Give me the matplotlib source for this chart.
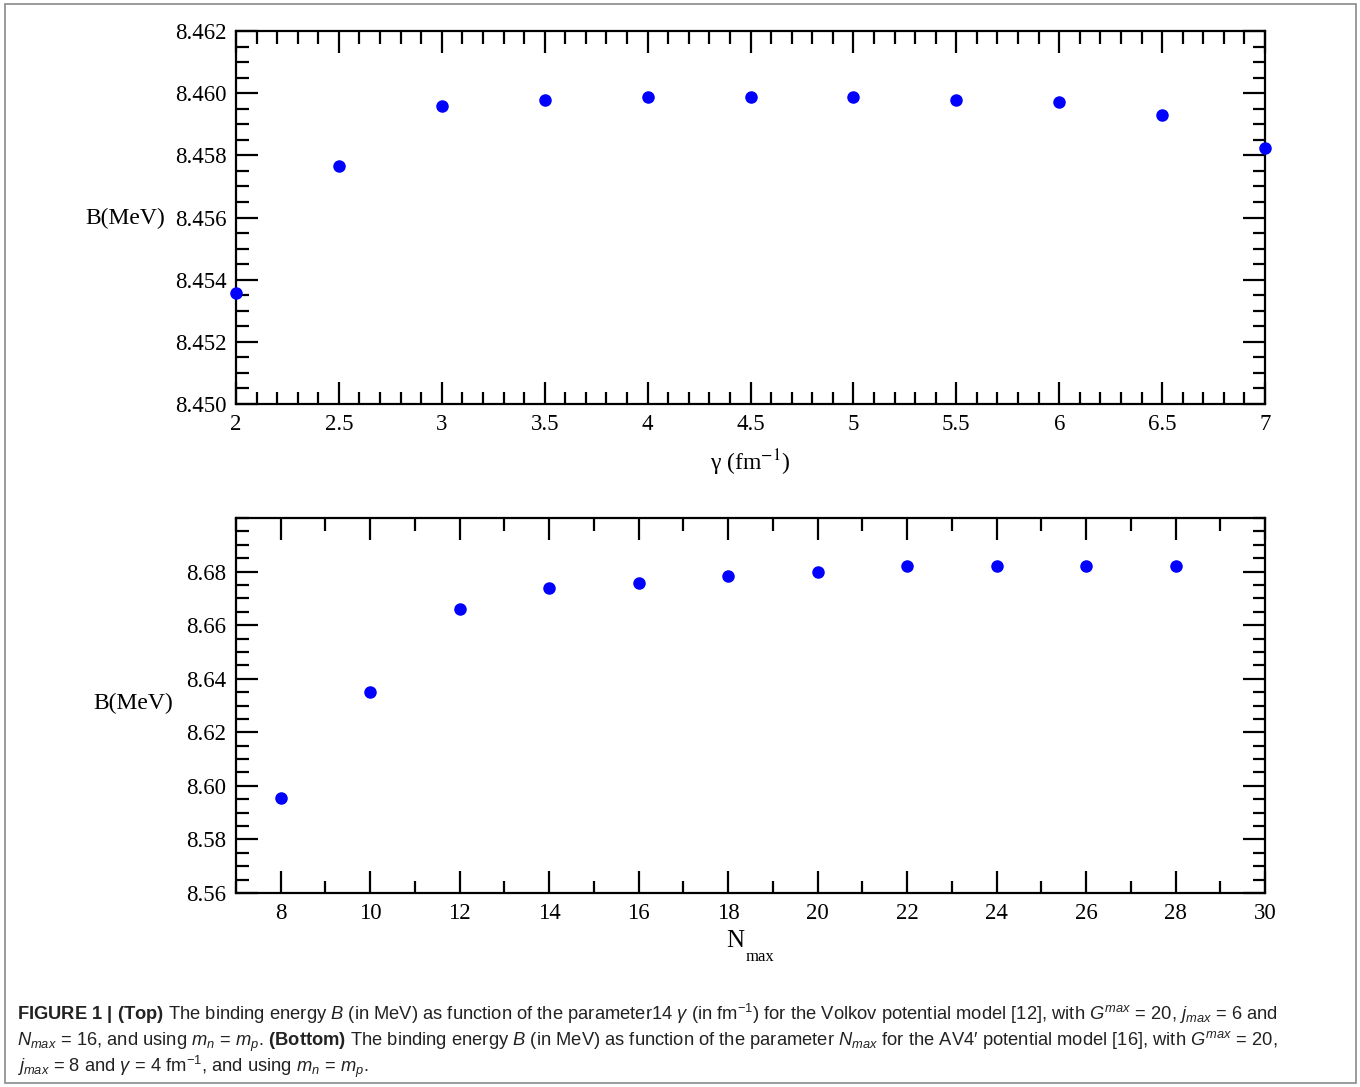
import matplotlib
matplotlib.use("Agg")
import matplotlib.pyplot as plt
from matplotlib.patches import Rectangle
from matplotlib.ticker import MultipleLocator, FormatStrFormatter

# ── Data ───────────────────────────────────────────────────────────────────────
gamma_vals = [2.0, 2.5, 3.0, 3.5, 4.0, 4.5, 5.0, 5.5, 6.0, 6.5, 7.0]
b_gamma    = [8.45357, 8.45767, 8.45958, 8.45977, 8.45989, 8.45989,
              8.45989, 8.45977, 8.45970, 8.45929, 8.45822]

nmax_vals  = [8, 10, 12, 14, 16, 18, 20, 22, 24, 26, 28]
b_nmax     = [8.5955, 8.6352, 8.6661, 8.6738, 8.6758, 8.6785, 8.6800,
              8.6820, 8.6820, 8.6820, 8.6820]

# ── Style ──────────────────────────────────────────────────────────────────────
plt.rcParams["font.family"] = "Liberation Serif"
plt.rcParams["mathtext.fontset"] = "custom"
plt.rcParams["mathtext.rm"] = "Liberation Sans"
plt.rcParams["mathtext.it"] = "Liberation Sans:italic"
plt.rcParams["mathtext.bf"] = "Liberation Sans:bold"

W, H = 1360, 1087
fig = plt.figure(figsize=(W / 100, H / 100), dpi=100)

def px_axes(x0, y0, x1, y1):
    return fig.add_axes([x0 / W, 1 - y1 / H, (x1 - x0) / W, (y1 - y0) / H])

def style_axes(ax):
    for s in ax.spines.values():
        s.set_linewidth(1.6)
    ax.tick_params(which="both", direction="in", top=True, right=True,
                   width=1.6, labelsize=16.5, pad=7, colors="black")
    ax.tick_params(which="major", length=16)
    ax.tick_params(which="minor", length=9)

# ── Top panel ──────────────────────────────────────────────────────────────────
ax1 = px_axes(236, 31, 1265, 404)
ax1.plot(gamma_vals, b_gamma, "o", color="#0000ff", ms=8, clip_on=False, zorder=5)
ax1.set_xlim(2, 7)
ax1.set_ylim(8.450, 8.462)
ax1.xaxis.set_major_locator(MultipleLocator(0.5))
ax1.xaxis.set_minor_locator(MultipleLocator(0.1))
ax1.yaxis.set_major_locator(MultipleLocator(0.002))
ax1.yaxis.set_minor_locator(MultipleLocator(0.0005))
ax1.yaxis.set_major_formatter(FormatStrFormatter("%.3f"))
ax1.xaxis.set_major_formatter(FormatStrFormatter("%g"))
style_axes(ax1)

# ── Bottom panel ───────────────────────────────────────────────────────────────
ax2 = px_axes(236, 518, 1265, 893)
ax2.plot(nmax_vals, b_nmax, "o", color="#0000ff", ms=8, clip_on=False, zorder=5)
ax2.set_xlim(7, 30)
ax2.set_ylim(8.56, 8.70)
ax2.xaxis.set_major_locator(MultipleLocator(2))
ax2.xaxis.set_minor_locator(MultipleLocator(1))
ax2.yaxis.set_major_locator(MultipleLocator(0.02))
ax2.yaxis.set_minor_locator(MultipleLocator(0.005))
ax2.yaxis.set_major_formatter(FormatStrFormatter("%.2f"))
style_axes(ax2)
# no label at the top 8.70
ax2.set_yticks([8.56, 8.58, 8.60, 8.62, 8.64, 8.66, 8.68])

# ── Axis labels ────────────────────────────────────────────────────────────────
fig.text(165 / W, 1 - 218 / H, "B(MeV)", ha="right", va="center", fontsize=17)
fig.text(173 / W, 1 - 703 / H, "B(MeV)", ha="right", va="center", fontsize=17)
fig.text(750 / W, 1 - 463 / H, r"γ (fm$^{-1}$)", ha="center", va="center",
         fontsize=17, math_fontfamily="stix")
fig.text(735 / W, 1 - 941 / H, "N", ha="center", va="center", fontsize=18)
fig.text(760 / W, 1 - 957 / H, "max", ha="center", va="center", fontsize=12)

# ── Caption ────────────────────────────────────────────────────────────────────
cap = [
    r"$\mathbf{FIGURE\ 1\ |\ (Top)}$ The binding energy $B$ (in MeV) as function of the "
    r"parameter14 $\gamma$ (in fm$^{-1}$) for the Volkov potential model [12], with "
    r"$G^{max}$ = 20, $j_{max}$ = 6 and",
    r"$N_{max}$ = 16, and using $m_n$ = $m_p$. $\mathbf{(Bottom)}$ The binding energy $B$ "
    r"(in MeV) as function of the parameter $N_{max}$ for the AV4′ potential model [16], "
    r"with $G^{max}$ = 20,",
    r"$j_{max}$ = 8 and $\gamma$ = 4 fm$^{-1}$, and using $m_n$ = $m_p$.",
]
for i, line in enumerate(cap):
    fig.text(17 / W, 1 - (1020 + 26 * i) / H, line, ha="left", va="baseline",
             fontsize=13.2, family="Liberation Sans", color="#222222")

# outer frame
fig.patches.append(Rectangle((5 / W, 4 / H), 1351 / W, 1079 / H, transform=fig.transFigure,
                             fill=False, edgecolor="#8a8a8a", lw=1.2))

fig.savefig("out.png", dpi=100)
